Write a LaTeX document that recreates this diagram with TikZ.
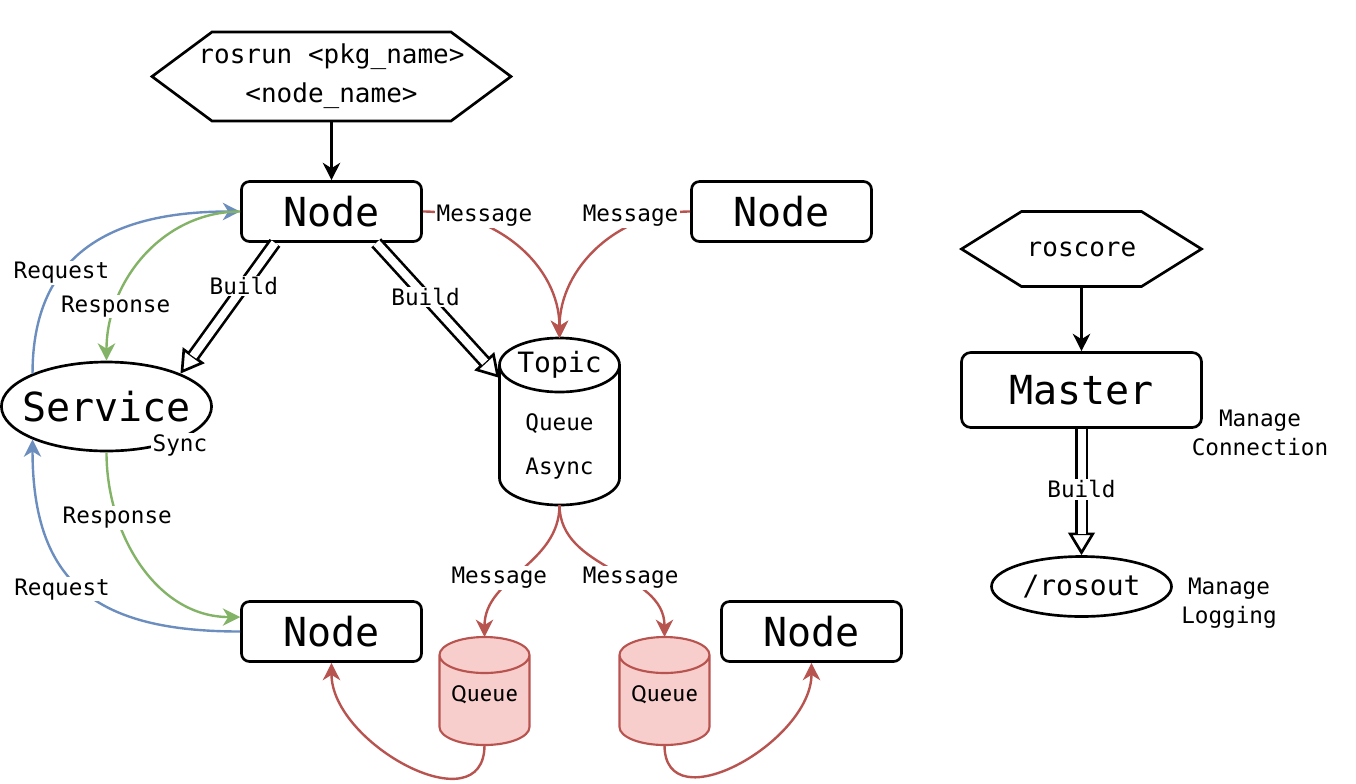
\documentclass[tikz,border=0pt]{standalone}
\usepackage{fontspec}
\setmainfont{DejaVu Sans Mono}
\newfontfamily\queuefont{Fira Sans}
\usetikzlibrary{arrows.meta,positioning,shapes.geometric}

\definecolor{reqblue}{HTML}{6C8EBF}
\definecolor{resgreen}{HTML}{82B366}
\definecolor{msgred}{HTML}{B85450}
\definecolor{queuepink}{HTML}{F8CECC}

% outline of a hexagon round a node: name, inset of the points
\newcommand{\hexframe}[2]{%
  \draw[line width=2pt,line join=miter] (#1.west) -- ([xshift=#2]#1.north west) -- ([xshift=-#2]#1.north east)
    -- (#1.east) -- ([xshift=-#2]#1.south east) -- ([xshift=#2]#1.south west) -- cycle;}
% outline of a drum round a node: name, x radius, y radius, options
\newcommand{\drumframe}[4]{%
  \draw[#4] ([yshift=-#3]#1.north west) -- ([yshift=#3]#1.south west)
    arc[start angle=180,end angle=360,x radius=#2,y radius=#3]
    -- ([yshift=-#3]#1.north east)
    arc[start angle=0,end angle=180,x radius=#2,y radius=#3] -- cycle
    ([yshift=-#3]#1.north west) arc[start angle=180,end angle=360,x radius=#2,y radius=#3];}

\begin{document}
\begin{tikzpicture}[x=0.75pt,y=-0.75pt,
  nodebox/.style={draw,line width=2pt,rounded corners=6pt,minimum width=135pt,minimum height=45pt,inner sep=0pt,font=\fontsize{30}{36}\selectfont},
  hexbox/.style={inner sep=0pt,outer sep=0pt,align=center},
  oval/.style={draw,ellipse,line width=2pt,inner sep=0pt},
  drum/.style={inner sep=0pt,outer sep=0pt},
  lbl/.style={fill=white,inner sep=1pt,font=\fontsize{17}{22}\selectfont,align=center},
  note/.style={inner sep=1pt,font=\fontsize{17}{22}\selectfont,align=center},
  flow/.style={line width=1.8pt,-{Stealth[length=13pt,width=13pt,inset=4pt]}},
  msg/.style={flow,draw=msgred},
  req/.style={flow,draw=reqblue},
  res/.style={flow,draw=resgreen},
  build/.style={line width=2pt,dash pattern=on 0pt off 10000pt,-{Triangle[open,length=17pt,width=20pt]},
    postaction={draw,solid,-,double,double distance=6pt,shorten >=16pt}}]
  \useasboundingbox (0,0) rectangle (1356,783);
  % launch commands
  \node[hexbox,minimum width=269.25pt,minimum height=66.75pt,font=\fontsize{19.5}{29}\selectfont]
    (rosrun) at (331.5,76.5) {rosrun <pkg\_name>\\<node\_name>};
  \hexframe{rosrun}{45pt}
  \node[hexbox,minimum width=180pt,minimum height=56.25pt,font=\fontsize{19.5}{24}\selectfont]
    (roscore) at (1081.5,249) {roscore};
  \hexframe{roscore}{45pt}
  % nodes, service, topic
  \node[nodebox] (pub) at (331.5,211.5) {Node};
  \node[nodebox] (peer) at (781.5,211.5) {Node};
  \node[nodebox] (client) at (331.5,631.5) {Node};
  \node[nodebox] (sub) at (811.5,631.5) {Node};
  \node[oval,inner xsep=-7.5pt,minimum height=66.75pt,font=\fontsize{30}{36}\selectfont] (srv) at (106.5,406.5) {Service};
  \node[lbl] (sync) at (180,445) {Sync};
  \node[drum,minimum width=90pt,minimum height=125.25pt] (topic) at (559.5,421.5) {};
  \drumframe{topic}{45pt}{20.25pt}{line width=2pt}
  \node[font=\fontsize{21}{25}\selectfont] (topicname) at (559.5,365) {Topic};
  \node[font=\fontsize{17}{33}\selectfont,align=center] (topicbody) at (559.5,446) {Queue\\Async};
  \node[drum,minimum width=67.5pt,minimum height=81pt] (qa) at (484.5,691) {};
  \drumframe{qa}{33.75pt}{13.5pt}{line width=1.6pt,draw=msgred,fill=queuepink}
  \node[font=\queuefont\fontsize{17}{22}\selectfont] (qatext) at (484.5,695) {Queue};
  \node[drum,minimum width=67.5pt,minimum height=81pt] (qb) at (664.5,691) {};
  \drumframe{qb}{33.75pt}{13.5pt}{line width=1.6pt,draw=msgred,fill=queuepink}
  \node[font=\queuefont\fontsize{17}{22}\selectfont] (qbtext) at (664.5,695) {Queue};
  % master side
  \node[nodebox,rounded corners=7pt,minimum width=180pt,minimum height=56.25pt] (master) at (1081.5,390) {Master};
  \node[oval,minimum width=135pt,minimum height=45pt,font=\fontsize{21}{25}\selectfont] (rosout) at (1081.5,586.5) {/rosout};
  \node[note] (conn) at (1260,433) {Manage\\Connection};
  \node[note] (logging) at (1229,603) {Manage\\Logging};

  \draw[flow] (rosrun) -- (pub);
  \draw[flow] (roscore) -- (master);
  \draw[msg] (pub.east) to[out=0,in=90] node[lbl,pos=0.3,yshift=7pt]{Message} (topic.north);
  \draw[msg] (peer.west) to[out=180,in=90] node[lbl,pos=0.3,yshift=7pt]{Message} (topic.north);
  \draw[msg] (topic.south) to[out=-90,in=90] node[lbl,xshift=-17pt,yshift=-5pt]{Message} (qa.north);
  \draw[msg] (topic.south) to[out=-90,in=90] node[lbl,xshift=14pt,yshift=-5pt]{Message} (qb.north);
  \draw[msg] (qa.south) to[out=-90,in=-90,looseness=1.2] (client.south);
  \draw[msg] (qb.south) to[out=-90,in=-90,looseness=1.2] (sub.south);
  \draw[req] (srv.156) to[out=90,in=180,looseness=1.2] node[lbl,pos=0.35]{Request} (pub.west);
  \draw[res] (pub.west) to[out=180,in=90] node[lbl,pos=0.76]{Response} (srv.north);
  \draw[res] (srv.south) to[out=-90,in=180] node[lbl,pos=0.27]{Response} (client.171);
  \draw[req] (client.west) to[out=180,in=-90,looseness=1.3] node[lbl,pos=0.55,xshift=-8pt,yshift=-7pt]{Request} (srv.204);
  \draw[build] (pub.209) -- node[lbl,pos=0.33]{Build} (srv.24);
  \draw[build] (pub.-35) -- node[lbl,pos=0.4]{Build} (topic.144);
  \draw[build] (master) -- node[lbl,pos=0.48]{Build} (rosout);
\end{tikzpicture}
\end{document}
